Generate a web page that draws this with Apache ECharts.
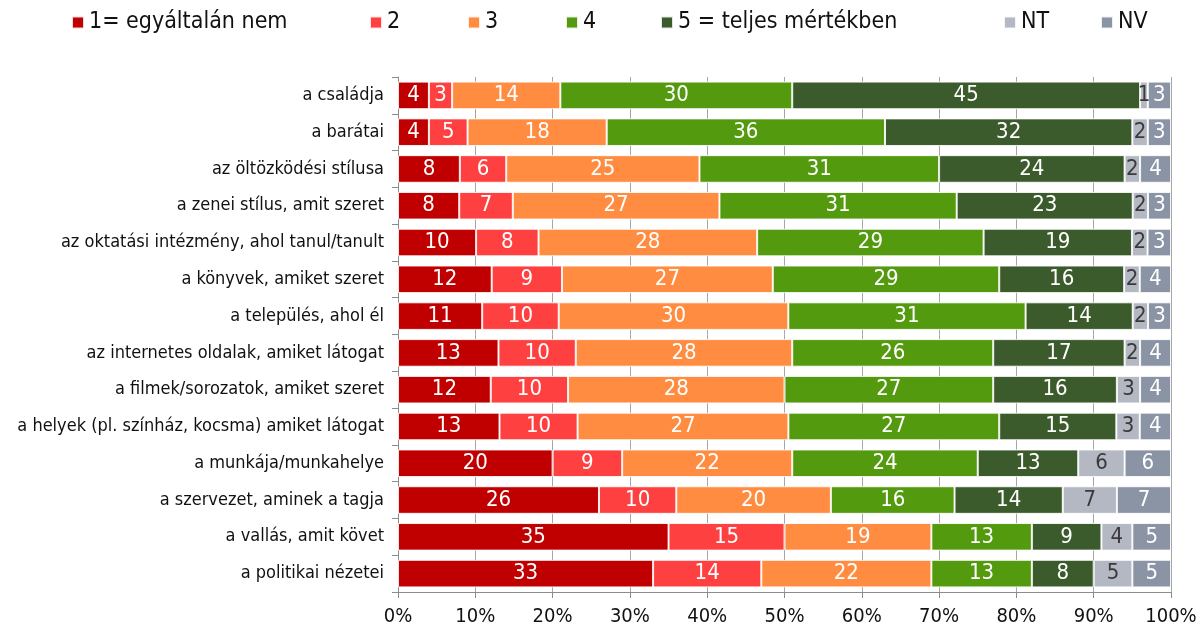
<!DOCTYPE html>
<html>
<head>
<meta charset="utf-8">
<script src="https://cdn.jsdelivr.net/npm/echarts@6/dist/echarts.min.js"></script>
<style>
  html, body { margin: 0; padding: 0; background: #fff; }
  #chart { width: 1203px; height: 630px; }
</style>
</head>
<body>
<div id="chart"></div>
<script>
'use strict';

// categories, top to bottom
const categories = [
  'a családja',
  'a barátai',
  'az öltözködési stílusa',
  'a zenei stílus, amit szeret',
  'az oktatási intézmény, ahol tanul/tanult',
  'a könyvek, amiket szeret',
  'a település, ahol él',
  'az internetes oldalak, amiket látogat',
  'a filmek/sorozatok, amiket szeret',
  'a helyek (pl. színház, kocsma) amiket látogat',
  'a munkája/munkahelye',
  'a szervezet, aminek a tagja',
  'a vallás, amit követ',
  'a politikai nézetei'
];

const seriesNames = ['1= egyáltalán nem', '2', '3', '4', '5 = teljes mértékben', 'NT', 'NV'];

// percentages as printed on the bars
const v1 = [4, 4, 8, 8, 10, 12, 11, 13, 12, 13, 20, 26, 35, 33];
const v2 = [3, 5, 6, 7, 8, 9, 10, 10, 10, 10, 9, 10, 15, 14];
const v3 = [14, 18, 25, 27, 28, 27, 30, 28, 28, 27, 22, 20, 19, 22];
const v4 = [30, 36, 31, 31, 29, 29, 31, 26, 27, 27, 24, 16, 13, 13];
const v5 = [45, 32, 24, 23, 19, 16, 14, 17, 16, 15, 13, 14, 9, 8];
const nt = [1, 2, 2, 2, 2, 2, 2, 2, 3, 3, 6, 7, 4, 5];
const nv = [3, 3, 4, 3, 3, 4, 3, 4, 4, 4, 6, 7, 5, 5];

const xTicks = ['0%', '10%', '20%', '30%', '40%', '50%', '60%', '70%', '80%', '90%', '100%'];

const colors = ['#C00000', '#FF4040', '#FF8C40', '#549A0F', '#3B5B2C', '#B4B8C2', '#8A94A5'];
const labelColors = ['#fff', '#fff', '#fff', '#fff', '#fff', '#3a3a3a', '#fff'];
const legendLeft = [66, 364, 462, 560, 655, 998, 1095];

const raw = [v1, v2, v3, v4, v5, nt, nv];
// row sums, so every bar fills 0-100%
const sums = categories.map((c, i) => raw.reduce((s, arr) => s + arr[i], 0));

const FONT = '"DejaVu Sans Condensed", "DejaVu Sans", sans-serif';

let chart = echarts.init(document.getElementById('chart'));

let option = {
  animation: false,
  textStyle: { fontFamily: FONT },
  legend: seriesNames.map((name, i) => ({
    data: [name],
    left: legendLeft[i],
    top: 6,
    icon: 'rect',
    itemWidth: 12,
    itemHeight: 12,
    itemGap: 6,
    textStyle: { fontSize: 23, color: '#111', fontFamily: FONT }
  })),
  grid: { left: 398, right: 32, top: 77, bottom: 38, containLabel: false },
  xAxis: {
    type: 'value',
    min: 0,
    max: 100,
    interval: 10,
    axisLine: { show: true, lineStyle: { color: '#8c8c8c' } },
    axisTick: { show: true, length: 6, lineStyle: { color: '#8c8c8c' } },
    splitLine: { show: true, lineStyle: { color: '#a6a6a6' } },
    axisLabel: {
      fontSize: 20,
      color: '#111',
      margin: 15,
      formatter: (v) => xTicks[Math.round(v / 10)]
    }
  },
  yAxis: {
    type: 'category',
    data: categories,
    inverse: true,
    axisLine: { show: true, lineStyle: { color: '#8c8c8c' } },
    axisTick: { show: true, length: 6, lineStyle: { color: '#8c8c8c' } },
    axisLabel: { fontSize: 18, color: '#111', margin: 14 }
  },
  series: raw.map((arr, s) => ({
    name: seriesNames[s],
    type: 'bar',
    stack: 'total',
    barWidth: '75%',
    data: arr.map((v, i) => v / sums[i] * 100),
    itemStyle: { color: colors[s], borderColor: 'rgba(255,255,255,0.85)', borderWidth: 1 },
    label: {
      show: true,
      position: 'inside',
      fontSize: 22,
      color: labelColors[s],
      fontFamily: FONT,
      formatter: (p) => String(arr[p.dataIndex])
    }
  }))
};

chart.setOption(option);
</script>
</body>
</html>
